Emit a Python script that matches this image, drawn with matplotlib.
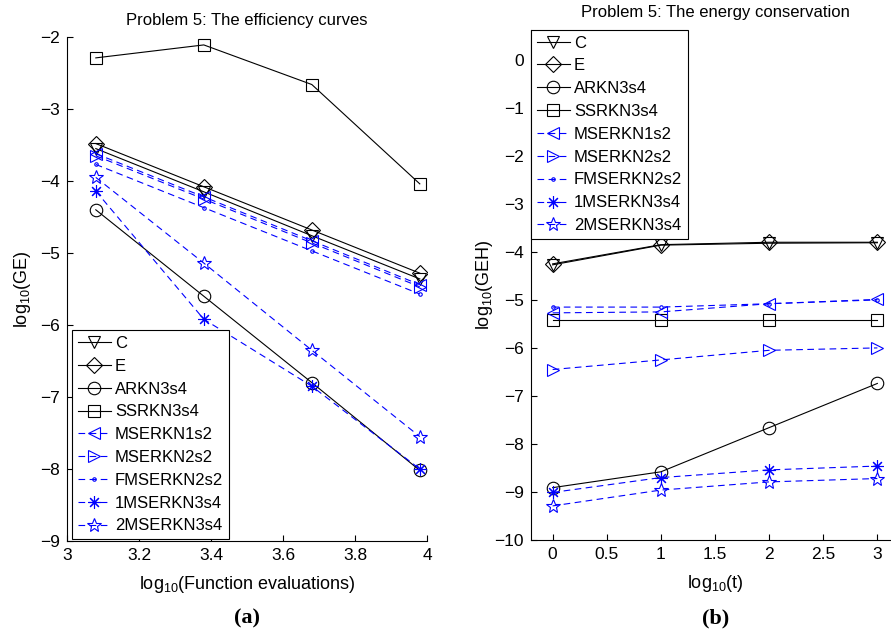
import matplotlib
matplotlib.use("Agg")
import matplotlib.pyplot as plt

plt.rcParams["font.family"] = ["Liberation Sans", "DejaVu Sans"]
plt.rcParams["mathtext.default"] = "regular"

# ---- data: (a) efficiency curves ----
x_fe = [3.08, 3.38, 3.68, 3.98]
ge = {
    "C":          [-3.55, -4.15, -4.76, -5.36],
    "E":          [-3.48, -4.08, -4.68, -5.28],
    "ARKN3s4":    [-4.40, -5.60, -6.80, -8.02],
    "SSRKN3s4":   [-2.29, -2.11, -2.66, -4.04],
    "MSERKN1s2":  [-3.62, -4.22, -4.83, -5.44],
    "MSERKN2s2":  [-3.65, -4.25, -4.86, -5.47],
    "FMSERKN2s2": [-3.77, -4.37, -4.97, -5.57],
    "1MSERKN3s4": [-4.14, -5.92, -6.85, -8.00],
    "2MSERKN3s4": [-3.95, -5.14, -6.35, -7.55],
}

# ---- data: (b) energy conservation ----
x_t = [0, 1, 2, 3]
geh = {
    "C":          [-4.27, -3.86, -3.82, -3.81],
    "E":          [-4.25, -3.85, -3.80, -3.80],
    "ARKN3s4":    [-8.91, -8.58, -7.66, -6.74],
    "SSRKN3s4":   [-5.42, -5.42, -5.42, -5.42],
    "MSERKN1s2":  [-5.27, -5.25, -5.08, -4.99],
    "MSERKN2s2":  [-6.45, -6.25, -6.05, -6.00],
    "FMSERKN2s2": [-5.15, -5.15, -5.08, -5.00],
    "1MSERKN3s4": [-9.01, -8.70, -8.54, -8.46],
    "2MSERKN3s4": [-9.29, -8.96, -8.79, -8.72],
}

names = list(ge.keys())
styles = {
    "C":          dict(color="k", ls="-",  marker="v", ms=9),
    "E":          dict(color="k", ls="-",  marker="D", ms=8),
    "ARKN3s4":    dict(color="k", ls="-",  marker="o", ms=9),
    "SSRKN3s4":   dict(color="k", ls="-",  marker="s", ms=8),
    "MSERKN1s2":  dict(color="b", ls="--", marker="<", ms=9),
    "MSERKN2s2":  dict(color="b", ls="--", marker=">", ms=9),
    "FMSERKN2s2": dict(color="b", ls="--", marker=".", ms=5),
    "1MSERKN3s4": dict(color="b", ls="--", marker=(8, 2, 0), ms=9),
    "2MSERKN3s4": dict(color="b", ls="--", marker="*", ms=10),
}

fig = plt.figure(figsize=(8.91, 6.37), dpi=100)
ax1 = fig.add_axes([67 / 891, 96 / 637, 360 / 891, 504 / 637])
ax2 = fig.add_axes([531 / 891, 97 / 637, 368 / 891, 510 / 637])


def draw(ax, x, data):
    for n in names:
        st = styles[n]
        ax.plot(x, data[n], color=st["color"], ls=st["ls"], lw=0.8,
                marker=st["marker"], ms=st["ms"], mfc="none",
                mec=st["color"], mew=0.8,
                dashes=(6, 4) if st["ls"] == "--" else (None, None),
                label=n)
    for s in ["top", "right"]:
        ax.spines[s].set_visible(False)
    ax.tick_params(direction="in", length=4, labelsize=12.5, width=0.8, pad=5)


draw(ax1, x_fe, ge)
ax1.set_xlim(3, 4)
ax1.set_ylim(-9, -2)
ax1.set_xticks([3, 3.2, 3.4, 3.6, 3.8, 4])
ax1.set_xticklabels(["3", "3.2", "3.4", "3.6", "3.8", "4"])
ax1.set_title("Problem 5: The efficiency curves", fontsize=12, pad=9)
ax1.set_xlabel("log$_{10}$(Function evaluations)", fontsize=13, labelpad=8)
ax1.set_ylabel("log$_{10}$(GE)", fontsize=13, labelpad=5)

draw(ax2, x_t, geh)
ax2.set_xlim(-0.2, 3.2)
ax2.set_ylim(-10, 0.62)
ax2.set_xticks([0, 0.5, 1, 1.5, 2, 2.5, 3])
ax2.set_xticklabels(["0", "0.5", "1", "1.5", "2", "2.5", "3"])
ax2.set_yticks(range(-10, 1))
ax2.set_title("Problem 5: The energy conservation", fontsize=12, pad=9)
ax2.set_xlabel("log$_{10}$(t)", fontsize=13, labelpad=8)
ax2.set_ylabel("log$_{10}$(GEH)", fontsize=13, labelpad=0)

leg_kw = dict(fontsize=12, frameon=True, fancybox=False, framealpha=1,
              edgecolor="k", borderaxespad=0, handlelength=2.0,
              handletextpad=0.25, labelspacing=0.47, borderpad=0.33)
l1 = ax1.legend(loc="lower left", bbox_to_anchor=(5 / 360, 2 / 504), **leg_kw)
l2 = ax2.legend(loc="upper left", bbox_to_anchor=(0, 1), **leg_kw)
for l in (l1, l2):
    l.get_frame().set_linewidth(0.8)

fig.text(247 / 891, 1 - 618 / 637, "(a)", ha="center", va="center",
         fontsize=16, fontweight="bold", family="Liberation Serif")
fig.text(716 / 891, 1 - 618 / 637, "(b)", ha="center", va="center",
         fontsize=16, fontweight="bold", family="Liberation Serif")

fig.savefig("out.png", dpi=100)
